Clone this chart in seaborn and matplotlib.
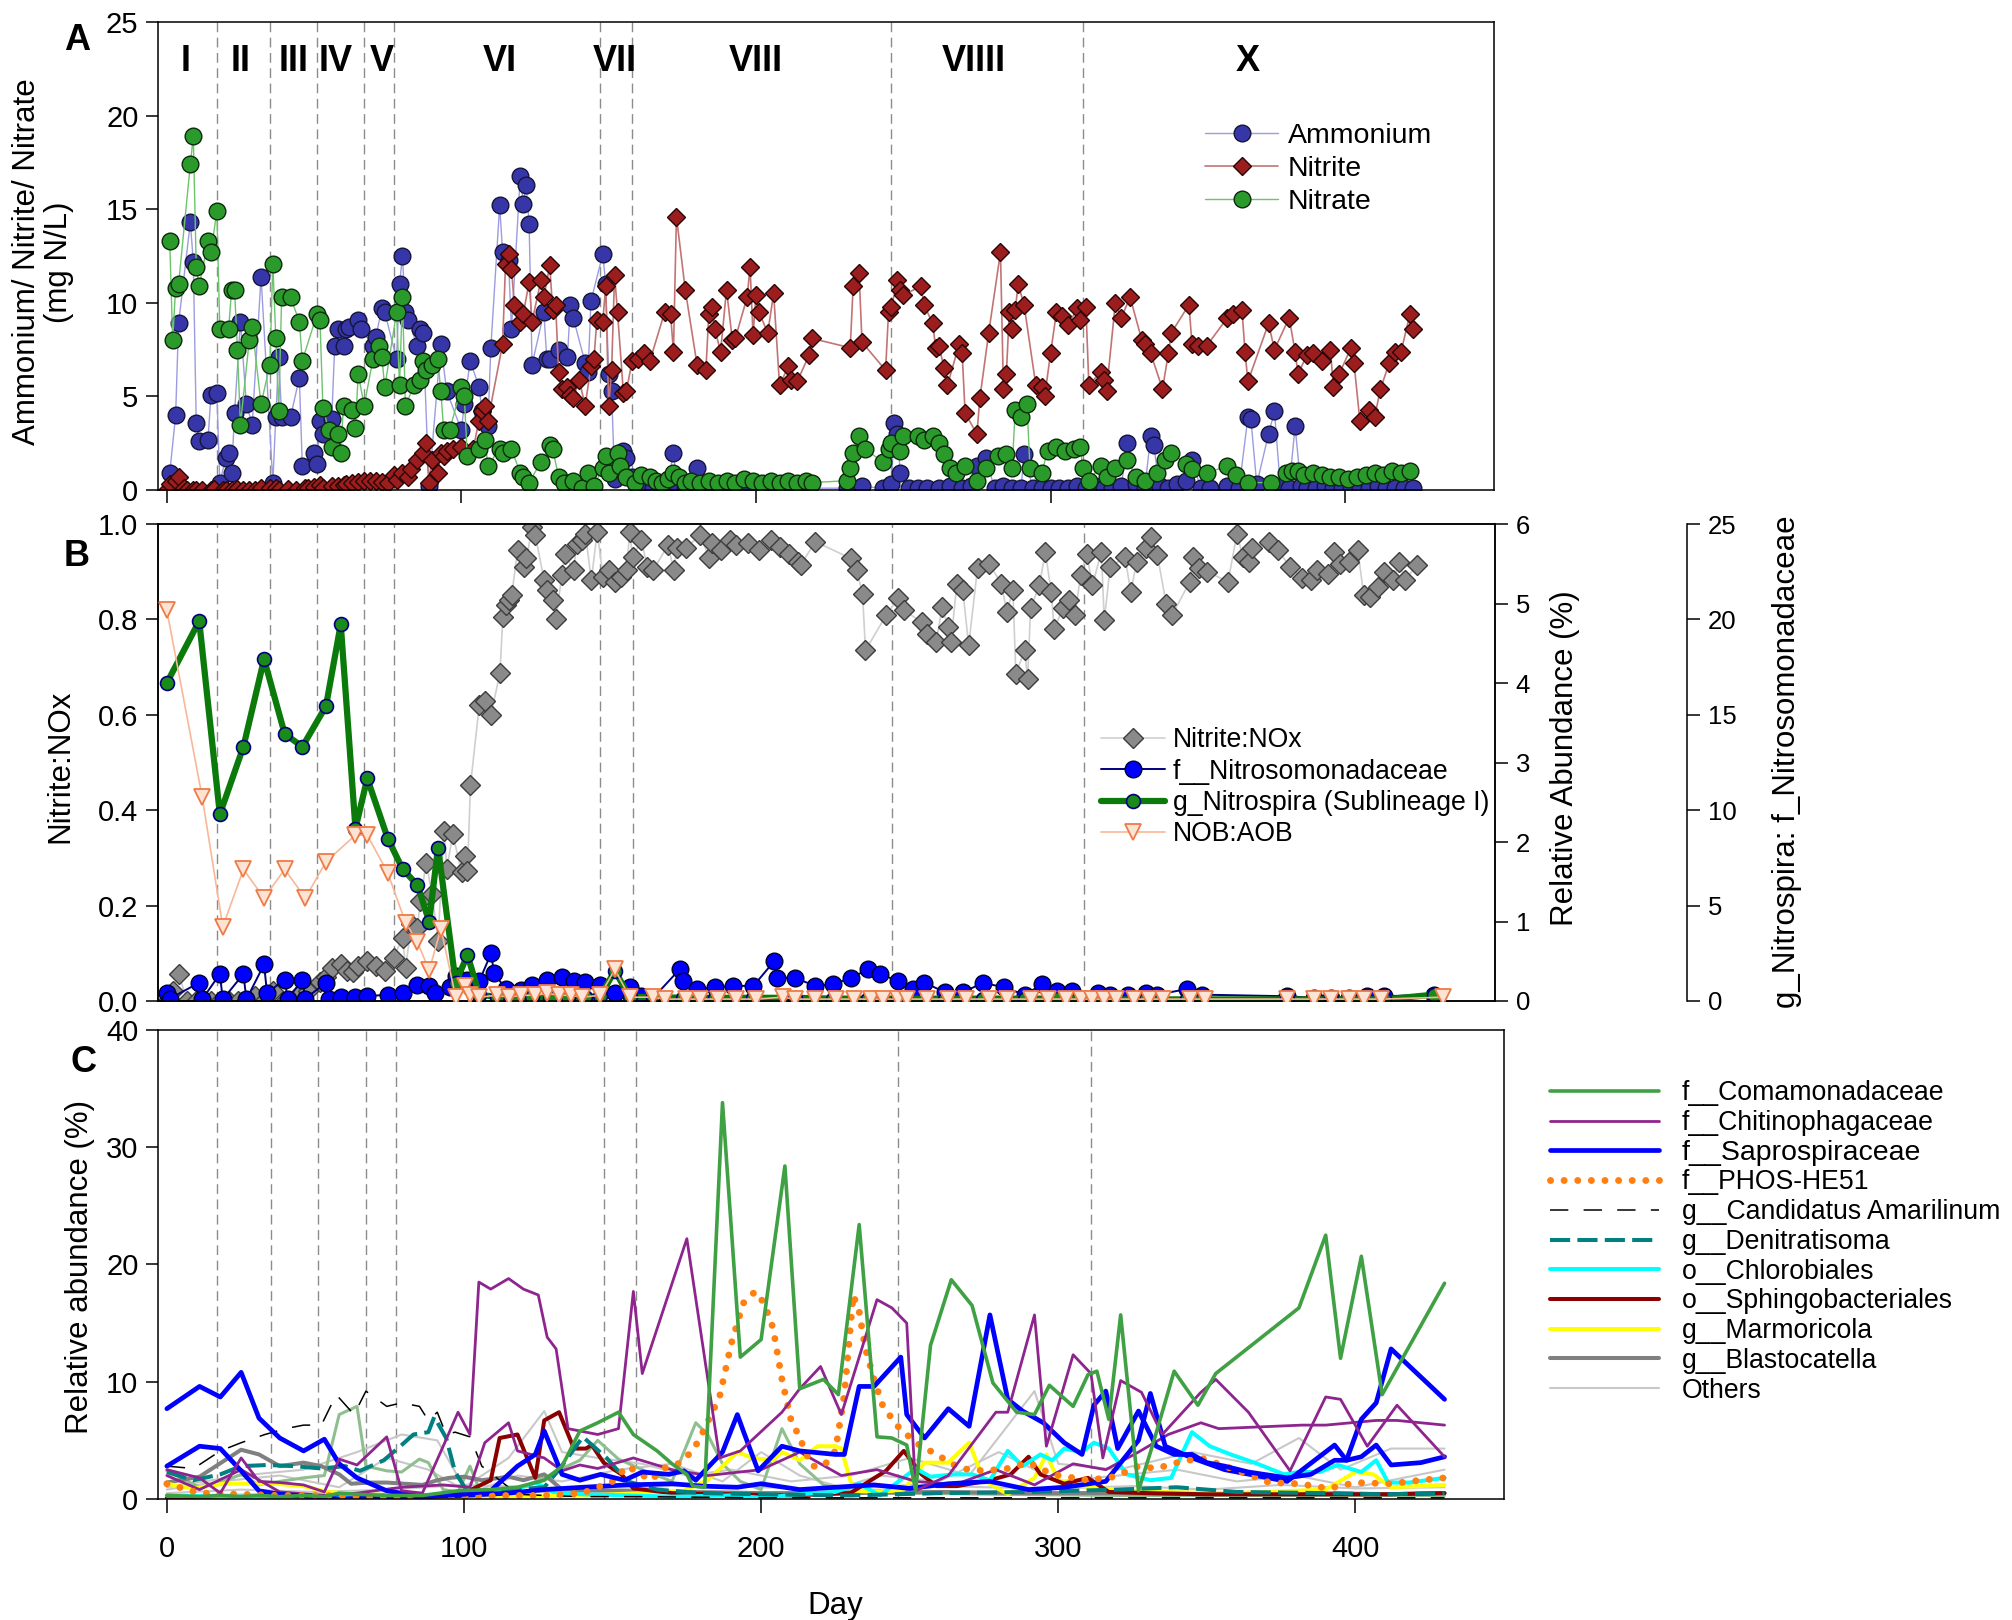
import matplotlib
matplotlib.use("Agg")
import matplotlib.pyplot as plt
from matplotlib import font_manager
from matplotlib.lines import Line2D
import seaborn as sns

# ---------------- periods ----------------
phase_bounds = [17, 35, 51, 67, 77, 147, 158, 246, 311]
phase_names = ["I", "II", "III", "IV", "V", "VI", "VII", "VIII", "VIIII", "X"]
phase_label_day = [6.5, 25, 43, 57.5, 73, 113, 152, 200, 274, 367]

# ---------------- panel A (mg N/L) ----------------
amm_day = [1, 3, 4, 8, 9, 10, 11, 14, 15, 17, 18, 20, 21, 22, 23, 25, 27, 29, 32, 36,
           37, 38, 39, 42, 45, 46, 50, 51, 52, 53, 56, 57, 58, 60, 61, 62, 65, 66, 70, 71,
           73, 74, 78, 79, 80, 81, 82, 85, 86, 87, 89, 93, 95, 100, 101, 103, 106, 107, 109, 110,
           113, 114, 116, 117, 120, 121, 122, 123, 124, 128, 129, 130, 133, 136, 137, 138, 142, 143, 144, 148,
           149, 150, 151, 152, 155, 156, 158,
           162, 165, 168, 170, 172, 173, 176, 180, 182, 185, 188, 191, 194, 197, 200, 203, 206, 209, 212, 215,
           218, 231, 233, 236, 243, 246, 247, 248, 249, 252, 255, 258, 262, 266, 270, 273, 275, 278, 281, 284,
           287, 290, 291, 294, 297, 300, 303, 306, 309, 312, 315, 318, 321, 324, 326, 329, 332, 334, 335, 337,
           340, 343, 346, 348, 351, 354, 360, 364, 367, 368, 370, 374, 376, 378, 381, 383, 385, 387, 390, 393,
           396, 399, 402, 405, 408, 411, 414, 417, 420, 423]
amm_val = [0.9, 4.0, 8.9, 14.3, 12.2, 3.6, 2.6, 2.7, 5.1, 5.2, 0.4, 1.7, 2.0, 0.9, 4.1, 9.0, 4.6, 3.5, 11.4, 0.4,
           3.9, 7.1, 3.9, 3.9, 6.0, 1.3, 2.0, 1.4, 3.7, 3.0, 3.8, 7.7, 8.6, 7.7, 8.6, 8.7, 9.1, 8.6, 7.7, 8.2,
           9.7, 9.5, 7.0, 11.0, 12.5, 9.5, 9.1, 7.7, 8.6, 8.4, 0.2, 7.8, 5.3, 3.2, 4.6, 6.9, 5.5, 4.2, 3.4, 7.6,
           15.2, 12.7, 12.3, 8.6, 16.8, 15.3, 16.3, 14.2, 6.7, 9.5, 7.0, 7.0, 7.5, 7.1, 9.9, 9.2, 6.8, 6.3, 10.1, 12.6,
           11.0, 6.2, 5.3, 0.6, 2.1, 1.7, 0.7,
           0.2, 0.1, 0.2, 0.3, 2.0, 0.4, 0.1, 1.2, 0.2, 0.1, 0.1, 0.2, 0.1, 0.1, 0.1, 0.2, 0.1, 0.1, 0.2, 0.1,
           0.1, 0.1, 0.1, 0.2, 0.1, 0.3, 3.6, 3.0, 0.9, 0.1, 0.1, 0.1, 0.1, 0.2, 0.1, 0.2, 1.3, 1.7, 0.1, 0.2,
           0.1, 0.1, 1.9, 0.1, 0.1, 0.1, 0.1, 0.1, 0.2, 0.1, 0.2, 0.1, 0.1, 0.2, 2.5, 0.3, 0.1, 2.9, 2.4, 0.2,
           0.1, 0.3, 0.5, 1.6, 0.1, 0.1, 0.2, 0.1, 3.9, 3.8, 0.3, 3.0, 4.2, 0.2, 0.1, 3.4, 0.2, 0.1, 0.1, 0.2,
           0.1, 0.1, 0.2, 0.1, 0.1, 0.2, 0.1, 0.1, 0.1, 0.1]

nit_day = [0, 1, 3, 4, 6, 7, 9, 10, 12, 15, 16, 19, 20, 22, 24, 26, 28, 30, 32, 35,
           37, 38, 41, 44, 47, 48, 50, 52, 53, 56, 58, 60, 61, 63, 65, 67, 69, 71, 73, 75,
           77, 78, 80, 82, 83, 85, 87, 88, 89, 90, 92, 93, 94, 95, 97, 100, 104, 106, 107, 108, 109,
           114, 115, 116, 117, 118, 120, 121, 123, 124, 127, 128, 130, 131, 132, 133, 134, 136, 137, 138, 140,
           142, 144, 145, 146, 148, 149, 150, 151, 152, 153, 155, 156, 158, 160, 162, 164, 169, 171, 172, 173,
           176, 180, 183, 184, 185, 186, 188, 190, 192, 193, 197, 198, 199, 200, 201, 204, 206, 208, 211, 212,
           214, 218, 219, 232, 233, 235, 236, 244, 245, 246, 248, 249, 250, 256, 257, 260, 261, 262, 264, 265,
           269, 270, 271, 275, 276, 279, 283, 284, 285, 286, 287, 288, 289, 291, 295, 297, 298, 300, 302, 304,
           306, 309, 310, 312, 313, 317, 318, 319, 322, 324, 327, 331, 332, 334, 338, 340, 341, 347, 348, 350,
           353, 360, 362, 365, 366, 367, 374, 376, 381, 383, 384, 387, 389, 392, 395, 396, 398, 402, 403, 405,
           408, 410, 412, 415, 417, 419, 422, 423]
nit_val = [0.0, 0.3, 0.5, 0.7, 0.1, 0.0, 0.0, 0.0, 0.0, 0.0, 0.05, 0.0, 0.0, 0.0, 0.05, 0.0, 0.0, 0.0, 0.1, 0.1,
           0.1, 0.0, 0.05, 0.0, 0.1, 0.1, 0.15, 0.25, 0.1, 0.2, 0.2, 0.25, 0.3, 0.35, 0.45, 0.5, 0.5, 0.5, 0.45, 0.35,
           0.8, 0.55, 0.9, 0.7, 1.1, 1.6, 2.0, 2.5, 0.4, 1.6, 0.9, 2.0, 1.8, 2.1, 2.2, 2.3, 2.2, 3.7, 4.2, 4.5, 3.7,
           7.8, 12.1, 12.6, 11.8, 9.9, 9.0, 9.4, 11.1, 9.0, 11.2, 10.3, 12.0, 9.6, 9.9, 6.3, 5.4, 5.5, 5.1, 4.9, 5.9,
           4.5, 6.6, 7.0, 9.1, 9.0, 10.9, 4.5, 6.4, 11.5, 9.5, 5.2, 5.3, 6.9, 7.0, 7.3, 6.9, 9.5, 9.4, 7.4, 14.6,
           10.7, 6.7, 6.4, 9.4, 9.8, 8.6, 7.4, 10.7, 8.0, 8.1, 10.3, 11.9, 8.3, 10.4, 9.5, 8.4, 10.5, 5.6, 6.6, 5.9,
           5.8, 7.2, 8.1, 7.6, 10.9, 11.6, 7.9, 6.4, 9.5, 9.8, 11.2, 10.7, 10.4, 10.9, 9.9, 8.9, 7.6, 7.7, 6.5, 5.6,
           7.8, 7.3, 4.1, 3.0, 4.9, 8.4, 12.7, 5.4, 6.2, 9.5, 8.6, 9.6, 11.0, 9.9, 5.6, 5.5, 5.0, 7.3, 9.5, 9.3,
           8.8, 9.7, 9.1, 9.8, 5.6, 6.3, 5.9, 5.3, 10.0, 9.2, 10.3, 8.0, 7.8, 7.3, 5.4, 7.3, 8.4, 9.9, 7.8, 7.7,
           7.7, 9.2, 9.4, 9.6, 7.4, 5.8, 8.9, 7.5, 9.2, 7.4, 6.2, 7.2, 7.3, 6.9, 7.5, 5.5, 6.2, 7.6, 6.8, 3.7,
           4.3, 3.9, 5.4, 6.8, 7.4, 7.4, 9.4, 8.6]

nat_day = [1, 2, 3, 4, 8, 9, 10, 11, 14, 15, 17, 18, 21, 22, 23, 24, 25, 28, 29, 32,
           35, 36, 37, 38, 39, 42, 45, 46, 51, 52, 53, 55, 56, 58, 59, 60, 63, 64, 65, 67,
           70, 72, 73, 74, 78, 79, 80, 81, 84, 86, 87, 88, 90, 92, 93, 94, 96, 100, 101, 102,
           106, 108, 109, 113, 114, 117, 120, 121, 123, 127, 130, 131, 133, 135, 138, 141, 143, 145, 148, 149,
           150, 153, 154, 156, 159, 161, 164, 166, 168, 170, 172, 174, 176, 178, 181, 184, 187, 190, 193, 196,
           199, 202, 205, 208, 211, 214, 217, 219, 231, 232, 233, 235, 237, 243, 245, 246, 249, 250, 255, 257,
           260, 262, 264, 266, 268, 271, 275, 278, 282, 285, 287, 288, 290, 292, 293, 297, 299, 302, 305, 308,
           310, 311, 313, 317, 319, 322, 326, 329, 332, 336, 339, 341, 346, 348, 353, 360, 363, 367, 375, 380,
           382, 384, 386, 389, 392, 395, 398, 401, 404, 407, 410, 413, 416, 419, 422]
nat_val = [13.3, 8.0, 10.8, 11.0, 17.4, 18.9, 11.9, 10.9, 13.3, 12.7, 14.9, 8.6, 8.6, 10.7, 10.7, 7.5, 3.5, 8.0, 8.7, 4.6,
           6.7, 12.1, 8.1, 4.2, 10.3, 10.3, 9.0, 6.9, 9.4, 9.1, 4.4, 3.2, 2.3, 3.0, 2.0, 4.5, 4.3, 3.3, 6.2, 4.5,
           7.0, 7.7, 7.1, 5.5, 9.5, 5.6, 10.3, 4.5, 5.6, 5.9, 6.9, 6.4, 6.7, 7.0, 5.3, 3.2, 3.2, 5.5, 5.0, 1.8,
           2.2, 2.7, 1.3, 2.2, 2.0, 2.2, 0.9, 0.7, 0.4, 1.5, 2.4, 2.2, 0.7, 0.4, 0.5, 0.1, 0.9, 0.2, 1.2, 1.8,
           0.9, 2.0, 1.3, 0.7, 0.4, 0.8, 0.7, 0.5, 0.4, 0.6, 0.9, 0.7, 0.4, 0.5, 0.4, 0.5, 0.4, 0.5, 0.4, 0.6,
           0.5, 0.4, 0.5, 0.4, 0.5, 0.4, 0.5, 0.4, 0.5, 1.2, 2.0, 2.9, 2.2, 1.5, 2.2, 2.5, 2.1, 2.9, 2.9, 2.7,
           2.9, 2.5, 1.9, 1.2, 0.9, 1.3, 0.5, 1.2, 1.8, 1.9, 1.2, 4.3, 3.9, 4.6, 1.2, 0.9, 2.1, 2.3, 2.1, 2.2,
           2.3, 1.2, 0.5, 1.3, 0.7, 1.2, 1.6, 0.7, 0.5, 0.9, 1.6, 2.0, 1.4, 1.1, 0.9, 1.3, 0.8, 0.4, 0.4, 0.9,
           1.0, 1.0, 0.8, 0.9, 0.8, 0.7, 0.7, 0.6, 0.7, 0.8, 0.9, 0.8, 1.0, 0.9, 1.0]

# ---------------- panel B ----------------
nox_day = [0, 2, 4, 7, 10, 13, 15, 18, 21, 24, 27, 30, 33, 36, 40, 44, 48, 52, 54, 56,
           59, 61, 63, 65, 68, 71, 74, 77, 80, 81, 83, 85, 86, 88, 90, 92, 94, 95, 97, 100,
           101, 102, 103, 106, 108, 110, 113, 114, 115, 116, 117, 119, 121, 122, 124, 125, 128, 129, 131, 132,
           134, 135, 138, 139, 141, 142, 144, 146, 148, 150, 152, 154, 156, 157, 158, 161, 163, 165, 170, 172,
           173, 176, 181, 184, 185, 188, 191, 193, 197, 201, 205, 208, 211, 214, 215, 220, 232, 234, 236, 237,
           244, 248, 250, 256, 258, 261, 263, 265, 266, 268, 270, 272, 275, 279, 283, 285, 287, 288, 291, 292,
           293, 296, 298, 300, 301, 304, 306, 308, 310, 312, 314, 317, 318, 320, 325, 327, 329, 332, 334, 336,
           339, 341, 347, 348, 350, 353, 360, 363, 365, 367, 368, 374, 377, 381, 385, 388, 390, 394, 396, 398,
           401, 404, 406, 408, 411, 413, 416, 418, 420, 424]
nox_val = [0.0, 0.02, 0.056, 0.0, 0.0, 0.0, 0.0, 0.0, 0.0, 0.0, 0.0, 0.01, 0.0, 0.02, 0.0, 0.01, 0.02, 0.04, 0.05, 0.07,
           0.077, 0.063, 0.06, 0.074, 0.084, 0.074, 0.063, 0.091, 0.133, 0.07, 0.161, 0.154, 0.21, 0.29, 0.224, 0.126, 0.357, 0.277, 0.35, 0.27,
           0.305, 0.273, 0.452, 0.62, 0.63, 0.6, 0.688, 0.805, 0.83, 0.84, 0.851, 0.945, 0.91, 0.928, 0.994, 0.977, 0.882, 0.861, 0.84, 0.802,
           0.893, 0.938, 0.903, 0.959, 0.966, 0.98, 0.882, 0.984, 0.889, 0.903, 0.879, 0.889, 0.903, 0.984, 0.931, 0.966, 0.91, 0.903, 0.956, 0.903,
           0.95, 0.95, 0.977, 0.928, 0.96, 0.945, 0.966, 0.956, 0.96, 0.945, 0.966, 0.952, 0.938, 0.921, 0.914, 0.963, 0.928, 0.903, 0.854, 0.735,
           0.809, 0.844, 0.819, 0.795, 0.77, 0.753, 0.826, 0.784, 0.753, 0.875, 0.861, 0.746, 0.907, 0.917, 0.875, 0.816, 0.861, 0.686, 0.735, 0.676,
           0.823, 0.872, 0.942, 0.857, 0.781, 0.823, 0.84, 0.809, 0.893, 0.938, 0.872, 0.942, 0.798, 0.91, 0.931, 0.858, 0.921, 0.949, 0.973, 0.935,
           0.833, 0.809, 0.879, 0.931, 0.907, 0.9, 0.879, 0.98, 0.931, 0.921, 0.949, 0.963, 0.945, 0.91, 0.886, 0.882, 0.903, 0.896, 0.942, 0.917,
           0.921, 0.945, 0.851, 0.847, 0.868, 0.9, 0.882, 0.921, 0.882, 0.914]

aob_day = [0, 1, 11, 12, 18, 19, 26, 27, 33, 34, 40, 41, 46, 47, 54, 55, 59, 64, 68, 75,
           80, 85, 89, 91, 96, 98, 102, 106, 110, 111, 115, 120, 124, 129, 134, 138, 142, 147, 152, 157,
           161, 165, 174, 175, 180, 186, 192, 199, 206, 207, 213, 220, 226, 232, 238, 242, 248, 253, 257, 264,
           270, 277, 284, 291, 297, 302, 307, 316, 320, 326, 332, 336, 346, 351, 380, 389, 395, 401, 407, 413, 430]
aob_val = [0.1, 0.03, 0.23, 0.02, 0.34, 0.02, 0.34, 0.02, 0.46, 0.1, 0.27, 0.02, 0.27, 0.03, 0.23, 0.03, 0.05, 0.05, 0.06, 0.08,
           0.1, 0.2, 0.19, 0.1, 0.18, 0.32, 0.27, 0.25, 0.6, 0.35, 0.15, 0.14, 0.2, 0.26, 0.3, 0.25, 0.24, 0.2, 0.1, 0.17,
           0.06, 0.04, 0.4, 0.25, 0.15, 0.17, 0.19, 0.19, 0.5, 0.29, 0.29, 0.19, 0.21, 0.29, 0.4, 0.34, 0.25, 0.15, 0.23, 0.11,
           0.11, 0.23, 0.17, 0.08, 0.21, 0.13, 0.13, 0.1, 0.08, 0.08, 0.1, 0.08, 0.15, 0.08, 0.06, 0.04, 0.04, 0.04, 0.06, 0.06, 0.08]

nob_day = [0, 11, 18, 26, 33, 40, 46, 54, 59, 64, 68, 75, 80, 85, 89, 92, 98, 102, 106, 112,
           118, 124, 130, 136, 142, 147, 152, 157, 165, 175, 186, 199, 213, 226, 238, 248, 264, 277, 291, 302,
           316, 332, 346, 380, 395, 413, 430]
nob_val = [4.0, 4.78, 2.35, 3.2, 4.3, 3.36, 3.2, 3.71, 4.74, 2.17, 2.8, 2.04, 1.66, 1.46, 1.0, 1.93, 0.23, 0.58, 0.08, 0.05,
           0.04, 0.05, 0.04, 0.05, 0.05, 0.06, 0.38, 0.05, 0.05, 0.04, 0.04, 0.04, 0.04, 0.03, 0.03, 0.03, 0.03, 0.03, 0.03, 0.03,
           0.02, 0.02, 0.02, 0.02, 0.02, 0.02, 0.08]

ratio_day = [0, 12, 19, 26, 33, 40, 47, 54, 64, 68, 75, 81, 85, 89, 93, 98, 101, 103, 106, 112,
             116, 120, 125, 129, 133, 137, 141, 147, 152, 157, 165, 169, 176, 181, 187, 193, 200, 209, 213, 220,
             227, 233, 239, 243, 248, 251, 258, 265, 271, 279, 285, 293, 299, 305, 310, 314, 318, 322, 328, 333,
             338, 347, 352, 380, 389, 395, 401, 406, 412, 433]
ratio_val = [20.5, 10.7, 3.9, 6.9, 5.4, 6.9, 5.4, 7.3, 8.7, 8.7, 6.7, 4.1, 3.1, 1.6, 3.8, 0.2, 0.8, 0.3, 0.2, 0.3,
             0.2, 0.3, 0.3, 0.4, 0.3, 0.3, 0.2, 0.3, 1.66, 0.2, 0.2, 0.1, 0.1, 0.1, 0.1, 0.1, 0.1, 0.2, 0.1, 0.1,
             0.1, 0.1, 0.1, 0.1, 0.1, 0.1, 0.1, 0.1, 0.1, 0.1, 0.1, 0.1, 0.1, 0.1, 0.1, 0.1, 0.1, 0.1, 0.1, 0.1,
             0.1, 0.1, 0.1, 0.1, 0.1, 0.1, 0.1, 0.1, 0.1, 0.2]

# ---------------- panel C (relative abundance %) ----------------
comam_day = [0, 11, 18, 25, 31, 38, 46, 53, 58, 64, 74, 86, 98, 109, 118, 127, 133, 139, 145, 152,
             157, 165, 170, 175, 177, 181, 187, 193, 200, 208, 213, 221, 226, 233, 239, 244, 249, 252, 257, 264,
             271, 278, 286, 292, 297, 305, 310, 313, 317, 321, 327, 332, 339, 347, 353, 381, 390, 395, 402, 409, 430]
comam_val = [0.3, 0.2, 0.3, 0.2, 0.3, 0.2, 0.3, 0.2, 0.5, 0.4, 0.3, 0.3, 0.7, 0.8, 1.0, 1.6, 2.8, 5.8, 6.5, 7.4,
             5.5, 4.1, 3.0, 2.1, 1.1, 1.0, 33.8, 12.1, 13.6, 28.4, 9.4, 10.2, 8.9, 23.4, 5.3, 5.2, 4.6, 0.7, 13.1, 18.7,
             16.5, 9.9, 7.4, 7.2, 9.7, 7.9, 10.6, 10.9, 6.8, 15.7, 0.7, 4.8, 10.9, 8.0, 10.7, 16.3, 22.5, 12.0, 20.7, 8.9, 18.4]

sage_day = [0, 11, 18, 25, 31, 38, 46, 53, 58, 64, 67, 74, 79, 85, 88, 93, 98, 102, 106, 115,
            127, 133, 139, 145, 152, 160, 170, 178, 182, 187, 193, 200, 207, 213, 221, 233, 250, 280, 320, 360,
            400, 430]
sage_val = [2.4, 1.0, 1.4, 2.1, 1.2, 1.5, 1.8, 2.0, 7.2, 7.9, 2.8, 2.4, 2.3, 3.4, 3.1, 0.8, 0.6, 2.8, 0.3, 0.5,
            1.8, 2.6, 3.3, 5.0, 3.4, 2.5, 1.5, 6.5, 5.5, 3.0, 1.5, 0.8, 6.0, 3.0, 1.2, 0.5, 0.5, 0.4, 0.3, 0.3,
            0.3, 0.3]

sapro_day = [0, 11, 18, 25, 31, 38, 46, 53, 58, 64, 74, 86, 100, 109, 118, 124, 127, 133, 139, 146,
             154, 160, 169, 174, 178, 187, 192, 194, 199, 207, 213, 225, 228, 233, 238, 247, 249, 255, 263, 270,
             277, 283, 288, 295, 302, 308, 312, 316, 320, 327, 333, 339, 345, 350, 356, 364, 377, 385, 393, 397,
             402, 407, 412, 430]
sapro_val = [7.7, 9.6, 8.7, 10.8, 6.9, 5.2, 4.1, 5.1, 3.0, 1.8, 0.7, 0.2, 0.4, 0.7, 2.8, 3.8, 5.8, 2.1, 1.6, 2.1,
             1.6, 2.3, 2.1, 2.4, 1.6, 4.0, 7.2, 5.8, 2.4, 4.5, 4.1, 3.8, 3.8, 9.6, 9.6, 12.1, 7.2, 5.2, 7.7, 6.2,
             15.7, 8.5, 7.5, 6.5, 4.8, 3.8, 8.0, 9.2, 4.3, 7.5, 4.5, 3.8, 3.8, 3.1, 2.8, 2.3, 1.8, 2.1, 3.3, 3.3,
             6.8, 8.2, 12.8, 8.5]

sapro2_day = [0, 11, 18, 25, 31, 38, 49, 58, 70, 85, 100, 115, 127, 140, 155, 170, 180, 192, 200, 213,
              225, 238, 250, 263, 277, 290, 302, 316, 327, 331, 336, 345, 356, 377, 393, 397, 402, 407, 412, 422, 430]
sapro2_val = [2.8, 4.5, 4.3, 2.4, 0.7, 0.4, 0.2, 0.0, 0.1, 0.2, 0.3, 0.5, 0.8, 1.0, 1.2, 1.3, 1.1, 1.0, 1.3, 0.8,
              1.0, 1.2, 0.9, 1.3, 1.5, 0.8, 1.0, 1.5, 5.0, 9.0, 4.5, 3.5, 2.5, 1.5, 4.6, 3.3, 3.6, 4.6, 2.9, 3.1, 3.6]

chit_day = [0, 11, 18, 25, 31, 38, 46, 53, 58, 64, 74, 79, 86, 93, 98, 102, 105, 109, 115, 120,
            125, 128, 131, 135, 145, 152, 157, 160, 175, 186, 193, 207, 213, 220, 227, 239, 244, 249, 252, 263,
            279, 283, 292, 296, 305, 311, 315, 321, 328, 335, 348, 353, 364, 378, 390, 395, 404, 414, 430]
chit_val = [2.5, 1.8, 0.5, 3.5, 1.5, 1.4, 1.2, 0.6, 3.4, 2.9, 5.3, 0.7, 0.5, 4.5, 7.4, 5.5, 18.5, 17.9, 18.8, 17.9,
            17.4, 13.8, 12.8, 6.0, 5.5, 6.0, 17.7, 10.7, 22.2, 3.5, 4.1, 7.4, 9.4, 11.3, 7.2, 17.0, 16.3, 15.0, 0.7, 2.0,
            7.4, 7.4, 15.7, 4.5, 12.3, 10.7, 3.5, 10.1, 9.1, 5.5, 9.1, 10.2, 7.4, 2.4, 8.7, 8.5, 4.5, 8.0, 3.6]

chit2_day = [0, 11, 25, 38, 53, 64, 79, 93, 102, 107, 115, 118, 127, 133, 139, 145, 157, 170, 182, 200,
             213, 227, 239, 252, 265, 279, 292, 305, 316, 327, 337, 348, 354, 382, 390, 407, 414, 430]
chit2_val = [2.0, 0.8, 2.5, 0.6, 0.3, 0.5, 1.0, 1.2, 1.0, 4.8, 6.5, 4.1, 3.5, 2.4, 2.9, 2.6, 3.5, 2.5, 2.0, 2.5,
             4.0, 2.0, 2.5, 1.5, 1.2, 2.5, 1.2, 3.0, 2.5, 4.0, 5.5, 6.5, 6.0, 6.3, 6.3, 6.7, 6.7, 6.3]

phos_day = [0, 11, 25, 38, 53, 67, 85, 100, 115, 127, 140, 150, 155, 163, 167, 172, 177, 180, 186, 190,
            194, 198, 201, 204, 207, 210, 213, 217, 221, 225, 228, 231, 233, 235, 238, 241, 246, 252, 259, 267,
            275, 283, 290, 298, 310, 319, 327, 333, 340, 348, 356, 364, 371, 381, 391, 400, 412, 422, 430]
phos_val = [1.3, 0.5, 0.4, 0.3, 0.3, 0.2, 0.2, 0.2, 0.3, 0.3, 0.5, 1.5, 2.8, 1.6, 2.6, 3.0, 4.1, 5.5, 8.7, 13.3,
            16.7, 17.7, 16.7, 14.6, 10.2, 6.8, 5.2, 2.8, 2.8, 4.1, 8.9, 17.4, 16.0, 12.9, 10.2, 7.9, 6.2, 4.8, 3.8, 2.6,
            2.4, 2.6, 3.1, 2.1, 1.6, 1.9, 2.8, 2.6, 3.1, 3.5, 2.8, 2.1, 1.4, 1.3, 0.9, 1.4, 1.3, 1.6, 1.8]

amar_day = [0, 9, 18, 25, 33, 40, 46, 52, 57, 63, 67, 74, 79, 85, 88, 91, 94, 97, 102, 106,
            112, 118, 127, 140, 160, 200, 250, 300, 350, 400, 430]
amar_val = [2.8, 2.6, 4.1, 4.8, 5.5, 6.0, 6.3, 6.3, 8.9, 7.2, 9.2, 7.9, 8.2, 7.9, 6.7, 7.4, 5.5, 5.7, 5.3, 2.8,
            1.6, 0.4, 0.3, 0.2, 0.2, 0.1, 0.1, 0.1, 0.1, 0.1, 0.1]

deni_day = [0, 9, 18, 25, 34, 43, 52, 60, 65, 73, 79, 83, 88, 90, 94, 97, 101, 109, 118, 127,
            132, 140, 148, 155, 165, 180, 200, 230, 260, 290, 320, 340, 360, 390, 410, 430]
deni_val = [2.3, 1.6, 2.1, 2.8, 2.9, 2.8, 2.6, 2.8, 2.4, 3.3, 4.6, 5.5, 5.7, 7.0, 5.2, 2.3, 0.7, 0.5, 0.8, 1.0,
            2.5, 5.3, 3.5, 1.5, 0.8, 0.5, 0.4, 0.3, 0.5, 0.6, 0.8, 1.0, 0.6, 0.5, 0.4, 0.5]

chlor_day = [0, 20, 40, 60, 80, 100, 112, 121, 124, 130, 140, 155, 170, 190, 200, 213, 225, 233, 240, 252,
             257, 265, 271, 277, 283, 288, 294, 298, 302, 308, 312, 317, 323, 331, 338, 345, 351, 358, 366, 376,
             381, 388, 394, 398, 402, 407, 411, 418, 430]
chlor_val = [0.3, 0.2, 0.2, 0.3, 0.3, 0.4, 0.6, 1.1, 1.4, 0.6, 0.4, 0.3, 0.2, 0.3, 0.1, 0.4, 0.6, 1.3, 0.3, 2.6,
             1.9, 2.1, 2.1, 1.6, 4.1, 2.8, 3.8, 3.3, 4.3, 4.0, 4.8, 4.3, 2.1, 1.6, 1.8, 5.7, 4.5, 3.8, 3.1, 2.1,
             2.3, 2.3, 2.9, 2.6, 2.3, 3.3, 1.4, 1.4, 1.8]

sphin_day = [0, 20, 40, 60, 80, 100, 109, 112, 118, 124, 127, 132, 137, 141, 143, 147, 153, 157, 170, 190,
             210, 230, 242, 248, 254, 259, 266, 277, 284, 290, 294, 302, 310, 317, 330, 350, 380, 410, 430]
sphin_val = [0.1, 0.1, 0.2, 0.2, 0.2, 0.5, 1.6, 5.2, 5.5, 1.8, 6.7, 7.4, 4.3, 4.3, 4.6, 3.1, 2.1, 0.9, 0.5, 0.4,
             0.3, 0.5, 2.4, 4.1, 2.1, 1.1, 1.1, 1.6, 2.1, 3.6, 2.1, 1.3, 1.8, 0.6, 0.5, 0.4, 0.4, 0.4, 0.5]

marm_day = [0, 9, 19, 28, 37, 46, 54, 65, 80, 100, 120, 140, 160, 174, 182, 192, 197, 204, 207, 213,
            219, 225, 227, 231, 240, 248, 255, 263, 270, 275, 283, 292, 296, 300, 310, 330, 360, 390, 400, 406,
            412, 430]
marm_val = [1.3, 0.9, 1.3, 1.3, 1.3, 1.1, 0.6, 0.4, 0.3, 0.2, 0.2, 0.3, 0.5, 0.7, 1.6, 4.0, 3.5, 3.3, 4.0, 3.3,
            4.5, 4.5, 4.3, 0.7, 0.6, 0.8, 3.1, 3.1, 4.8, 1.6, 0.4, 1.8, 3.8, 1.6, 1.0, 0.6, 0.5, 0.8, 2.3, 2.1,
            1.0, 1.2]

blast_day = [0, 11, 25, 31, 38, 46, 52, 58, 62, 68, 74, 80, 86, 91, 95, 100, 106, 115, 120, 127,
             133, 150, 170, 200, 230, 260, 290, 320, 350, 380, 410, 430]
blast_val = [1.4, 1.9, 4.2, 3.8, 2.8, 3.1, 2.8, 2.1, 1.3, 1.4, 1.4, 1.3, 1.2, 1.6, 1.8, 1.9, 1.6, 1.9, 1.6, 2.1,
             0.8, 0.7, 0.6, 0.5, 0.5, 0.6, 0.5, 0.5, 0.4, 0.5, 0.4, 0.5]

oth1_day = [0, 25, 46, 64, 79, 91, 100, 115, 127, 133, 145, 160, 175, 190, 210, 230, 250, 270, 292, 300,
            320, 345, 365, 381, 395, 412, 430]
oth1_val = [1.0, 2.0, 2.5, 4.0, 5.5, 5.0, 1.0, 3.5, 7.5, 4.0, 3.5, 3.0, 2.0, 2.5, 1.5, 2.0, 3.5, 2.0, 9.2, 3.0,
            2.5, 4.0, 3.0, 5.2, 2.5, 4.3, 4.3]
oth2_day = [0, 18, 38, 58, 74, 88, 102, 118, 133, 152, 170, 187, 200, 213, 227, 240, 260, 280, 300, 320,
            340, 360, 380, 400, 430]
oth2_val = [0.8, 1.5, 2.0, 1.0, 3.5, 2.5, 0.5, 2.0, 1.5, 2.5, 3.0, 1.5, 4.0, 2.0, 1.0, 2.0, 1.5, 4.0, 1.5, 2.0,
            2.5, 1.5, 2.0, 1.0, 2.5]
oth3_day = [0, 25, 50, 75, 100, 125, 150, 175, 200, 225, 250, 275, 300, 325, 350, 375, 400, 430]
oth3_val = [0.5, 0.8, 0.6, 0.8, 1.2, 1.0, 0.8, 1.2, 1.0, 0.8, 1.2, 1.0, 0.9, 1.1, 0.8, 1.2, 0.9, 1.0]
oth4_day = [0, 30, 60, 90, 120, 150, 180, 210, 240, 270, 300, 330, 360, 390, 430]
oth4_val = [0.3, 0.4, 0.5, 0.4, 0.6, 0.5, 0.7, 0.5, 0.8, 0.6, 0.5, 0.7, 0.5, 0.6, 0.4]

# ---------------- style ----------------
sns.set_theme(style="ticks")
plt.rcParams["font.family"] = ["Liberation Sans", "DejaVu Sans"]
for k in ["text.color", "axes.labelcolor", "axes.edgecolor", "xtick.color", "ytick.color"]:
    plt.rcParams[k] = "black"
plt.rcParams["axes.linewidth"] = 1.1

# the B legend is set in a narrow face in the original
try:
    font_manager.findfont("Liberation Sans Narrow", fallback_to_default=False)
    legend_b_prop = {"family": "Liberation Sans Narrow", "size": 22.5}
except Exception:
    legend_b_prop = {"family": "Liberation Sans", "size": 19.2}

fig = plt.figure(figsize=(20.12, 16.2), dpi=100)
ax_a = fig.add_axes([0.0785, 0.6975, 0.664, 0.2889])
ax_b = fig.add_axes([0.0785, 0.3821, 0.6645, 0.2944])
ax_c = fig.add_axes([0.0785, 0.0747, 0.669, 0.2895])


def series(ax, days, vals, **kw):
    n = min(len(days), len(vals))
    sns.lineplot(x=days[:n], y=vals[:n], ax=ax, estimator=None, sort=False,
                 errorbar=None, legend=False, **kw)


def phases(ax):
    for d in phase_bounds:
        ax.axvline(d, color="#8c8c8c", linewidth=1.0, linestyle=(0, (7, 4)), zorder=0.5)


# ---- A ----
phases(ax_a)
amm_style = dict(color="#9c9ce0", linewidth=1.0, marker="o", markersize=12,
                 markerfacecolor="#3636a8", markeredgecolor="#15153a", markeredgewidth=1.0)
nit_style = dict(color="#c27474", linewidth=1.2, marker="D", markersize=9.5,
                 markerfacecolor="#9b1d1d", markeredgecolor="#2a0505", markeredgewidth=1.0)
nat_style = dict(color="#6cc46c", linewidth=1.0, marker="o", markersize=12,
                 markerfacecolor="#2a9a2a", markeredgecolor="#0b2a0b", markeredgewidth=1.0)
series(ax_a, amm_day, amm_val, **amm_style)
series(ax_a, nit_day, nit_val, **nit_style)
series(ax_a, nat_day, nat_val, **nat_style)
ax_a.set_xlim(-3, 450.5)
ax_a.set_ylim(0, 25)
ax_a.set_yticks(range(0, 26, 5))
ax_a.set_xticks([0, 100, 200, 300, 400])
ax_a.tick_params(axis="x", direction="out", length=9, width=1.1, labelbottom=False)
ax_a.tick_params(axis="y", direction="out", length=9, width=1.1, labelsize=21, pad=5)
ax_a.set_xlabel("")
ax_a.set_ylabel("")
for name, d in zip(phase_names, phase_label_day):
    ax_a.text(d, 22.9, name, ha="center", va="center", fontsize=26, fontweight="bold")
h_a = [Line2D([], [], **amm_style), Line2D([], [], **nit_style), Line2D([], [], **nat_style)]
ax_a.legend(h_a, ["Ammonium", "Nitrite", "Nitrate"], loc="upper left", bbox_to_anchor=(0.784, 0.785),
            frameon=False, fontsize=20.5, handlelength=2.55, handletextpad=0.35, labelspacing=0.26,
            borderpad=0, borderaxespad=0)

# ---- B ----
phases(ax_b)
nox_style = dict(color="#cfcfcf", linewidth=1.2, marker="D", markersize=10,
                 markerfacecolor="#8a8a8a", markeredgecolor="#3c3c3c", markeredgewidth=1.0)
aob_style = dict(color="#000080", linewidth=1.4, marker="o", markersize=12,
                 markerfacecolor="#0000ff", markeredgecolor="#00002a", markeredgewidth=1.0)
nob_style = dict(color="#0b7a0b", linewidth=4.5, marker="o", markersize=10,
                 markerfacecolor="#1a8a1a", markeredgecolor="#000080", markeredgewidth=1.2)
ratio_style = dict(color="#f8b898", linewidth=1.2, marker="v", markersize=11,
                   markerfacecolor="#fde3d3", markeredgecolor="#f07a45", markeredgewidth=1.3)
series(ax_b, nox_day, nox_val, **nox_style)
ax_b.set_xlim(-3, 450.5)
ax_b.set_ylim(0, 1.0)
ax_b.set_yticks([0, 0.2, 0.4, 0.6, 0.8, 1.0])
ax_b.set_yticklabels(["0.0", "0.2", "0.4", "0.6", "0.8", "1.0"])
ax_b.set_xticks([])
ax_b.tick_params(axis="y", direction="out", length=9, width=1.1, labelsize=21, pad=5)
ax_b.set_xlabel("")
ax_b.set_ylabel("")

ax_b2 = ax_b.twinx()
series(ax_b2, aob_day, aob_val, **aob_style)
series(ax_b2, nob_day, nob_val, **nob_style)
ax_b2.set_ylim(0, 6)
ax_b2.set_yticks(range(0, 7))
ax_b2.tick_params(axis="y", direction="out", length=9, width=1.1, labelsize=18.5, pad=6)
ax_b2.set_ylabel("")
ax_b2.set_xlabel("")

ax_b3 = ax_b.twinx()
series(ax_b3, ratio_day, ratio_val, **ratio_style)
ax_b3.set_ylim(0, 25)
ax_b3.set_yticks(range(0, 26, 5))
ax_b3.spines["right"].set_position(("axes", 1.1436))
for s in ["top", "left", "bottom"]:
    ax_b3.spines[s].set_visible(False)
ax_b3.tick_params(axis="y", direction="out", length=9, width=1.1, labelsize=18.5, pad=6)
ax_b3.set_ylabel("")
ax_b3.set_xlabel("")
ax_b3.set_xlim(-3, 450.5)

h_b = [Line2D([], [], **nox_style), Line2D([], [], **aob_style),
       Line2D([], [], **nob_style), Line2D([], [], **ratio_style)]
ax_b3.legend(h_b, ["Nitrite:NOx", "f__Nitrosomonadaceae", "g_Nitrospira (Sublineage I)", "NOB:AOB"],
             loc="upper left", bbox_to_anchor=(0.705, 0.574), frameon=False, prop=legend_b_prop,
             handlelength=2.4, handletextpad=0.3, labelspacing=0.2, borderpad=0, borderaxespad=0)

# ---- C ----
phases(ax_c)
others_style = dict(color="#c8c8c8", linewidth=1.5)
sage_style = dict(color="#8fbf8f", linewidth=2.2)
comam_style = dict(color="#3fa044", linewidth=2.6)
chit_style = dict(color="#8e248e", linewidth=2.0)
sapro_style = dict(color="#0000ff", linewidth=3.4)
phos_style = dict(color="#ff8010", linewidth=5.0, linestyle=(0, (0.01, 1.95)), dash_capstyle="round")
amar_style = dict(color="black", linewidth=1.1, linestyle=(0, (12, 10)))
deni_style = dict(color="#008080", linewidth=2.9, linestyle=(0, (5, 1.8)))
chlor_style = dict(color="#00ffff", linewidth=2.9)
sphin_style = dict(color="#8b0000", linewidth=2.9)
marm_style = dict(color="#ffff00", linewidth=2.9)
blast_style = dict(color="#808080", linewidth=2.9)

series(ax_c, oth4_day, oth4_val, **others_style)
series(ax_c, oth3_day, oth3_val, **others_style)
series(ax_c, oth2_day, oth2_val, **others_style)
series(ax_c, oth1_day, oth1_val, **others_style)
series(ax_c, sage_day, sage_val, **sage_style)
series(ax_c, blast_day, blast_val, **blast_style)
series(ax_c, marm_day, marm_val, **marm_style)
series(ax_c, sphin_day, sphin_val, **sphin_style)
series(ax_c, chlor_day, chlor_val, **chlor_style)
series(ax_c, deni_day, deni_val, **deni_style)
series(ax_c, amar_day, amar_val, **amar_style)
series(ax_c, chit2_day, chit2_val, **chit_style)
series(ax_c, sapro2_day, sapro2_val, **sapro_style)
series(ax_c, phos_day, phos_val, **phos_style)
series(ax_c, sapro_day, sapro_val, **sapro_style)
series(ax_c, chit_day, chit_val, **chit_style)
series(ax_c, comam_day, comam_val, **comam_style)

ax_c.set_xlim(-3, 450)
ax_c.set_ylim(0, 40)
ax_c.set_yticks(range(0, 41, 10))
ax_c.set_xticks([0, 100, 200, 300, 400])
ax_c.tick_params(axis="x", direction="out", length=10, width=1.1, labelsize=21, pad=16)
ax_c.tick_params(axis="y", direction="out", length=9, width=1.1, labelsize=21, pad=5)
ax_c.set_xlabel("")
ax_c.set_ylabel("")

c_labels = ["f__Comamonadaceae", "f__Chitinophagaceae", "f__Saprospiraceae", "f__PHOS-HE51",
            "g__Candidatus Amarilinum", "g__Denitratisoma", "o__Chlorobiales", "o__Sphingobacteriales",
            "g__Marmoricola", "g__Blastocatella", "Others"]
c_styles = [comam_style, chit_style, sapro_style, phos_style, amar_style, deni_style,
            chlor_style, sphin_style, marm_style, blast_style, others_style]
h_c = [Line2D([], [], **s) for s in c_styles]
leg_c = ax_c.legend(h_c, c_labels, loc="upper left", bbox_to_anchor=(1.034, 0.893), frameon=False,
                    fontsize=19.2, handlelength=4.1, handletextpad=0.85, labelspacing=0.14,
                    borderpad=0, borderaxespad=0)
leg_c.get_texts()[2].set_fontsize(20.5)

# ---- labels ----
fig.text(43 / 2012, 1 - 262 / 1620, "Ammonium/ Nitrite/ Nitrate\n(mg N/L)", rotation=90,
         ha="center", va="center", fontsize=22.5, linespacing=1.05, multialignment="center")
fig.text(60 / 2012, 1 - 766 / 1620, "Nitrite:NOx", rotation=90, ha="center", va="center", fontsize=22.5)
fig.text(80 / 2012, 1 - 1267 / 1620, "Relative abundance (%)", rotation=90, ha="center", va="center",
         fontsize=22.5)
fig.text(1565 / 2012, 1 - 758 / 1620, "Relative Abundance (%)", rotation=90, ha="center", va="center",
         fontsize=22.5)
fig.text(1787 / 2012, 1 - 762 / 1620, "g_Nitrospira: f_Nitrosomonadaceae", rotation=90, ha="center",
         va="center", fontsize=22.5)
fig.text(835 / 2012, 1 - 1606 / 1620, "Day", ha="center", va="center", fontsize=22.5)

fig.text(77 / 2012, 1 - 41 / 1620, "A", ha="center", va="center", fontsize=26, fontweight="bold")
fig.text(77 / 2012, 1 - 556 / 1620, "B", ha="center", va="center", fontsize=26, fontweight="bold")
fig.text(83 / 2012, 1 - 1062 / 1620, "C", ha="center", va="center", fontsize=26, fontweight="bold")

fig.savefig("out.png", dpi=100)
